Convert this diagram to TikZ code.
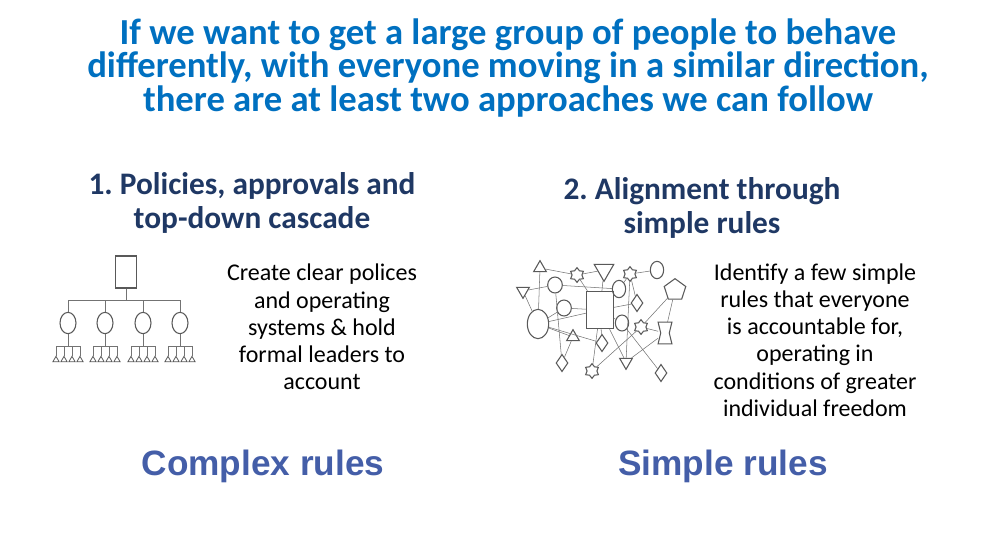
\documentclass[tikz,border=0pt]{standalone}
\usepackage{fontspec}
\setmainfont{Carlito}
\newfontfamily\arialfont{Liberation Sans}
\usetikzlibrary{shapes.geometric,shapes.symbols}
\definecolor{titleblue}{RGB}{0,112,192}
\definecolor{headblue}{RGB}{31,56,100}
\definecolor{rulesblue}{RGB}{68,94,168}
\tikzset{
  titletext/.style={font=\bfseries\fontsize{27.5}{24.8}\selectfont,text=titleblue,align=center},
  headtext/.style={font=\bfseries\fontsize{23.5}{26}\selectfont,text=headblue,align=center},
  bodytext/.style={font=\fontsize{18}{20.4}\selectfont,align=center},
  rulestext/.style={font=\arialfont\bfseries\fontsize{26.4}{28}\selectfont,text=rulesblue},
  shp/.style={draw=black!65,thick,inner sep=0pt},
  tri/.style={shp,regular polygon,regular polygon sides=3,minimum size=11},
  itri/.style={tri,shape border rotate=180,minimum size=17},
  dia/.style={shp,diamond,minimum width=9,minimum height=13},
  ring/.style={shp,ellipse,minimum width=11,minimum height=14},
  sstar/.style={shp,star,star points=6,minimum size=11},
  link/.style={draw=black!55,thin}
}
\frenchspacing
\begin{document}
\begin{tikzpicture}[x=0.75pt,y=-0.75pt]
  \useasboundingbox (0,0) rectangle (996,547);
  \node[titletext] (title) at (508,68)
    {If we want to get a large group of people to behave\\
     differently, with everyone moving in a similar direction,\\
     there are at least two approaches we can follow};
  % left column
  \node[headtext] (headA) at (252,203) {1. Policies, approvals and\\top-down cascade};
  \node[bodytext] (textA) at (322,327)
    {Create clear polices\\and operating\\systems \& hold\\formal leaders to\\account};
  \node[rulestext] (rulesA) at (263,466) {Complex rules};
  \node[shp,rectangle,minimum width=16,minimum height=24] (boss) at (126,272) {};
  \draw[link] (boss.south) -- (126,300);
  \draw[link] (68,300) -- (180,300);
  \foreach \x [count=\i] in {68,105,143,180} {
    \node[ring,minimum width=12,minimum height=16] (mgr\i) at (\x,323) {};
    \draw[link] (\x,300) -- (mgr\i.north);
    \draw[link] (mgr\i.south) -- (\x,346);
    \draw[link] (\x-12,346) -- (\x+12,346);
    \foreach \d in {-12,-4,4,12}
      \node[tri,semithick,minimum size=5.5] at (\x+\d,360) {}
        edge[link] (\x+\d,346);
  }
  % right column
  \node[headtext] (headB) at (702,208) {2. Alignment through\\simple rules};
  \node[bodytext] (textB) at (815,340)
    {Identify a few simple\\rules that everyone\\is accountable for,\\operating in\\conditions of greater\\individual freedom};
  \node[rulestext] (rulesB) at (723,466) {Simple rules};
  \node[shp,rectangle,minimum width=20,minimum height=28] (hub) at (600,310) {};
  \node[tri] (t1) at (540,268) {};
  \node[sstar] (s1) at (577,275) {};
  \node[itri] (v1) at (604,270) {};
  \node[sstar] (s2) at (630,274) {};
  \node[ring,minimum width=10,minimum height=13] (e1) at (657,270) {};
  \node[itri,minimum size=11] (v2) at (523,291) {};
  \node[ring,minimum width=11,minimum height=12] (c1) at (555,285) {};
  \node[ring,minimum width=10,minimum height=13] (e2) at (619,289) {};
  \node[dia] (d1) at (637,303) {};
  \node[shp,regular polygon,regular polygon sides=5,minimum size=17] (p1) at (675,290) {};
  \node[ring,minimum width=11,minimum height=12] (c2) at (564,308) {};
  \node[ring,minimum width=16,minimum height=22] (e3) at (538,324) {};
  \node[ring,minimum width=10,minimum height=12] (c3) at (622,323) {};
  \node[sstar] (s3) at (641,327) {};
  \node[inner sep=0pt,minimum width=10,minimum height=16] (h1) at (665,333) {};
  \draw[shp] (h1.north west) -- (h1.north east) -- ([xshift=-2pt]h1.east)
    -- (h1.south east) -- (h1.south west) -- ([xshift=2pt]h1.west) -- cycle;
  \node[tri] (t2) at (573,337) {};
  \node[dia] (d2) at (602,343) {};
  \node[dia] (d3) at (562,363) {};
  \node[itri,minimum size=11] (v3) at (626,362) {};
  \node[sstar] (s4) at (592,371) {};
  \node[dia] (d4) at (661,373) {};
  \foreach \a/\b in {t1/s1,t1/e3,v2/c1,v2/e3,c1/e2,c1/d3,s1/v1,s1/hub,v1/hub,
      e2/s2,s2/e1,s2/d1,s2/v3,c2/e3,c2/hub,e3/hub,e3/t2,e3/d2,t2/d3,hub/d1,
      hub/s4,hub/d2,hub/v3,hub/c3,c3/d4,s3/h1,s3/s4,p1/s3,p1/h1,h1/v3}
    \draw[link] (\a) -- (\b);
\end{tikzpicture}
\end{document}
